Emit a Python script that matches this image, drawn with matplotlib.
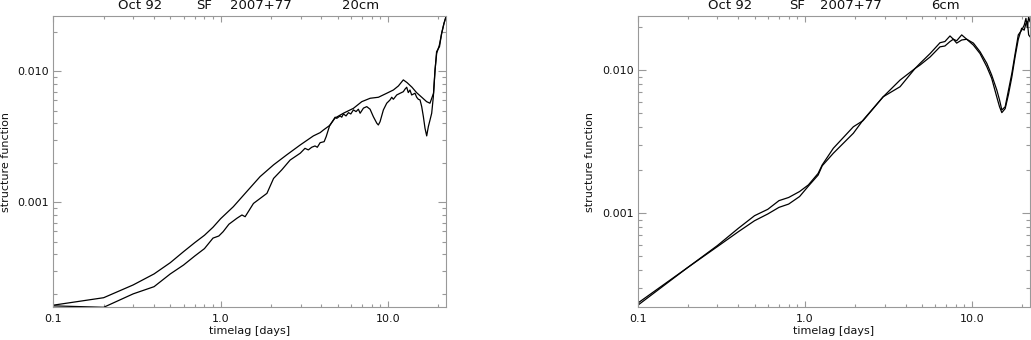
import matplotlib
matplotlib.use("Agg")
import matplotlib.pyplot as plt
from matplotlib.ticker import FixedLocator, FuncFormatter, NullFormatter, LogLocator

# ---------------- data ----------------
# 20cm panel, curve A (smoother upper curve)
lag_20_a = [0.1, 0.2, 0.3, 0.4, 0.5, 0.6, 0.7, 0.8, 0.9, 1.0,
            1.19, 1.43, 1.72, 2.07, 2.48, 2.99, 3.58, 3.93, 4.11, 4.47,
            4.83, 5.41, 6.21, 6.97, 7.82, 8.76, 9.82, 10.76, 11.53, 12.34,
            13.0, 13.9, 14.8, 15.9, 17.0, 17.8, 18.7, 19.1, 19.5, 20.3,
            20.9, 21.6, 22.2]
sf_20_a = [1.64e-4, 1.87e-4, 2.34e-4, 2.84e-4, 3.46e-4, 4.20e-4, 4.92e-4, 5.60e-4, 6.45e-4, 7.50e-4,
           9.25e-4, 1.205e-3, 1.57e-3, 1.93e-3, 2.30e-3, 2.74e-3, 3.21e-3, 3.40e-3, 3.56e-3, 3.85e-3,
           4.40e-3, 4.78e-3, 5.21e-3, 5.86e-3, 6.22e-3, 6.33e-3, 6.79e-3, 7.19e-3, 7.72e-3, 8.59e-3,
           8.18e-3, 7.55e-3, 6.87e-3, 6.33e-3, 5.86e-3, 5.70e-3, 6.79e-3, 1.02e-2, 1.41e-2, 1.54e-2,
           1.95e-2, 2.32e-2, 2.61e-2]

# 20cm panel, curve B (noisier lower curve)
lag_20_b = [0.1, 0.2, 0.3, 0.4, 0.5, 0.6, 0.7, 0.8, 0.9, 0.975,
            1.035, 1.12, 1.25, 1.34, 1.40, 1.57, 1.89, 2.07, 2.32, 2.60,
            2.99, 3.19, 3.34, 3.50, 3.66, 3.78, 3.93, 4.15, 4.27, 4.47,
            4.83, 4.94, 5.17, 5.29, 5.41, 5.61, 5.80, 5.99, 6.21, 6.44,
            6.65, 6.81, 7.13, 7.46, 7.81, 8.17, 8.57, 8.75, 8.96, 9.38,
            9.82, 10.28, 10.52, 10.76, 11.27, 11.80, 12.34, 12.62, 12.93, 13.21,
            13.52, 13.84, 14.49, 14.83, 15.17, 15.53, 15.89, 16.26, 16.63, 17.02,
            17.41, 17.82, 18.23, 18.65, 19.08, 19.53, 20.25, 20.93, 21.59, 22.2]
sf_20_b = [1.62e-4, 1.58e-4, 2.00e-4, 2.27e-4, 2.84e-4, 3.32e-4, 3.89e-4, 4.43e-4, 5.33e-4, 5.53e-4,
           5.97e-4, 6.80e-4, 7.55e-4, 8.00e-4, 7.76e-4, 9.80e-4, 1.17e-3, 1.52e-3, 1.77e-3, 2.10e-3,
           2.37e-3, 2.58e-3, 2.51e-3, 2.63e-3, 2.69e-3, 2.63e-3, 2.85e-3, 2.90e-3, 3.17e-3, 3.82e-3,
           4.46e-3, 4.37e-3, 4.56e-3, 4.46e-3, 4.72e-3, 4.56e-3, 4.83e-3, 4.72e-3, 5.07e-3, 4.92e-3,
           5.13e-3, 4.78e-3, 5.23e-3, 5.37e-3, 5.13e-3, 4.50e-3, 4.01e-3, 3.89e-3, 4.12e-3, 5.07e-3,
           5.70e-3, 6.04e-3, 6.33e-3, 6.11e-3, 6.59e-3, 6.79e-3, 6.98e-3, 7.29e-3, 7.55e-3, 6.87e-3,
           7.19e-3, 6.59e-3, 6.79e-3, 6.33e-3, 6.11e-3, 6.04e-3, 5.37e-3, 4.50e-3, 3.67e-3, 3.21e-3,
           3.78e-3, 4.25e-3, 4.78e-3, 6.40e-3, 1.02e-2, 1.37e-2, 1.58e-2, 1.95e-2, 2.32e-2, 2.60e-2]

# 6cm panel, two curves sampled at the same lags
lag_6 = [0.1, 0.2, 0.3, 0.4, 0.5, 0.6, 0.7, 0.8, 0.93, 1.05,
         1.20, 1.27, 1.48, 1.95, 2.23, 2.94, 3.71, 4.56, 4.89, 5.61,
         6.43, 6.88, 7.38, 7.73, 8.09, 8.67, 9.29, 10.19, 11.16, 12.25,
         13.1, 14.06, 14.6, 15.07, 15.78, 16.52, 17.3, 18.1, 18.9, 19.8,
         20.5, 21.0, 21.4, 21.8, 22.2]
sf_6_a = [2.35e-4, 4.19e-4, 5.95e-4, 7.85e-4, 9.62e-4, 1.066e-3, 1.226e-3, 1.29e-3, 1.42e-3, 1.58e-3,
          1.90e-3, 2.18e-3, 2.85e-3, 4.03e-3, 4.45e-3, 6.53e-3, 8.55e-3, 1.03e-2, 1.12e-2, 1.31e-2,
          1.56e-2, 1.59e-2, 1.74e-2, 1.65e-2, 1.55e-2, 1.63e-2, 1.65e-2, 1.55e-2, 1.35e-2, 1.12e-2,
          9.27e-3, 7.28e-3, 6.20e-3, 5.28e-3, 5.56e-3, 7.28e-3, 9.53e-3, 1.31e-2, 1.77e-2, 1.91e-2,
          2.07e-2, 2.31e-2, 1.99e-2, 2.37e-2, 2.19e-2]
sf_6_b = [2.27e-4, 4.19e-4, 5.85e-4, 7.43e-4, 8.87e-4, 9.89e-4, 1.10e-3, 1.16e-3, 1.31e-3, 1.55e-3,
          1.85e-3, 2.15e-3, 2.63e-3, 3.63e-3, 4.49e-3, 6.53e-3, 7.68e-3, 1.03e-2, 1.09e-2, 1.24e-2,
          1.46e-2, 1.48e-2, 1.59e-2, 1.65e-2, 1.61e-2, 1.77e-2, 1.65e-2, 1.50e-2, 1.31e-2, 1.06e-2,
          8.80e-3, 6.50e-3, 5.56e-3, 5.06e-3, 5.40e-3, 6.80e-3, 9.00e-3, 1.25e-2, 1.65e-2, 1.97e-2,
          1.91e-2, 2.13e-2, 2.20e-2, 1.77e-2, 1.72e-2]

x_major = [0.1, 1.0, 10.0]
y_major = [0.001, 0.010]
title_parts_20 = ["Oct 92", "SF", "2007+77", "20cm"]
title_parts_6 = ["Oct 92", "SF", "2007+77", "6cm"]

# ---------------- figure ----------------
plt.rcParams['font.family'] = ['DejaVu Sans']
fig = plt.figure(figsize=(10.31, 3.40), dpi=100)

gray = '#999999'
txt = '#111111'


def style(ax, ylim, title_parts, title_x):
    ax.set_xscale('log')
    ax.set_yscale('log')
    ax.set_xlim(0.1, 22.2)
    ax.set_ylim(*ylim)
    for s in ax.spines.values():
        s.set_color(gray)
        s.set_linewidth(0.8)
    ax.xaxis.set_major_locator(FixedLocator(x_major))
    ax.yaxis.set_major_locator(FixedLocator(y_major))
    ax.xaxis.set_minor_locator(LogLocator(base=10, subs=range(2, 10), numticks=20))
    ax.yaxis.set_minor_locator(LogLocator(base=10, subs=range(2, 10), numticks=20))
    ax.xaxis.set_major_formatter(FuncFormatter(lambda v, p: f"{v:.1f}"))
    ax.yaxis.set_major_formatter(FuncFormatter(lambda v, p: f"{v:.3f}"))
    ax.xaxis.set_minor_formatter(NullFormatter())
    ax.yaxis.set_minor_formatter(NullFormatter())
    ax.tick_params(axis='both', which='both', direction='in', color=gray,
                   top=True, right=True, labelcolor=txt, labelsize=8, width=0.8)
    ax.tick_params(axis='x', which='major', length=4.3, pad=5)
    ax.tick_params(axis='x', which='minor', length=2.2)
    ax.tick_params(axis='y', which='major', length=5.8, pad=3)
    ax.tick_params(axis='y', which='minor', length=2.9)
    ax.set_xlabel('timelag [days]', fontsize=8, color=txt)
    ax.set_ylabel('structure function', fontsize=8, color=txt)
    ax.xaxis.set_label_coords(0.5, -0.065)
    ax.yaxis.set_label_coords(-0.108, 0.5)
    for part, xp in zip(title_parts, title_x):
        ax.text(xp, 1.023, part, transform=ax.transAxes, fontsize=9.5,
                color=txt, ha='left', va='baseline')


ax1 = fig.add_axes([0.0517, 0.0962, 0.3809, 0.8568])
ax1.plot(lag_20_a, sf_20_a, color='black', lw=0.9)
ax1.plot(lag_20_b, sf_20_b, color='black', lw=0.9)
style(ax1, (1.58e-4, 0.0264), title_parts_20, [0.166, 0.364, 0.450, 0.736])

ax2 = fig.add_axes([0.6185, 0.0962, 0.3805, 0.8568])
ax2.plot(lag_6, sf_6_a, color='black', lw=0.9)
ax2.plot(lag_6, sf_6_b, color='black', lw=0.9)
style(ax2, (2.20e-4, 0.0240), title_parts_6, [0.178, 0.386, 0.464, 0.749])

fig.savefig('out.png', dpi=100)
